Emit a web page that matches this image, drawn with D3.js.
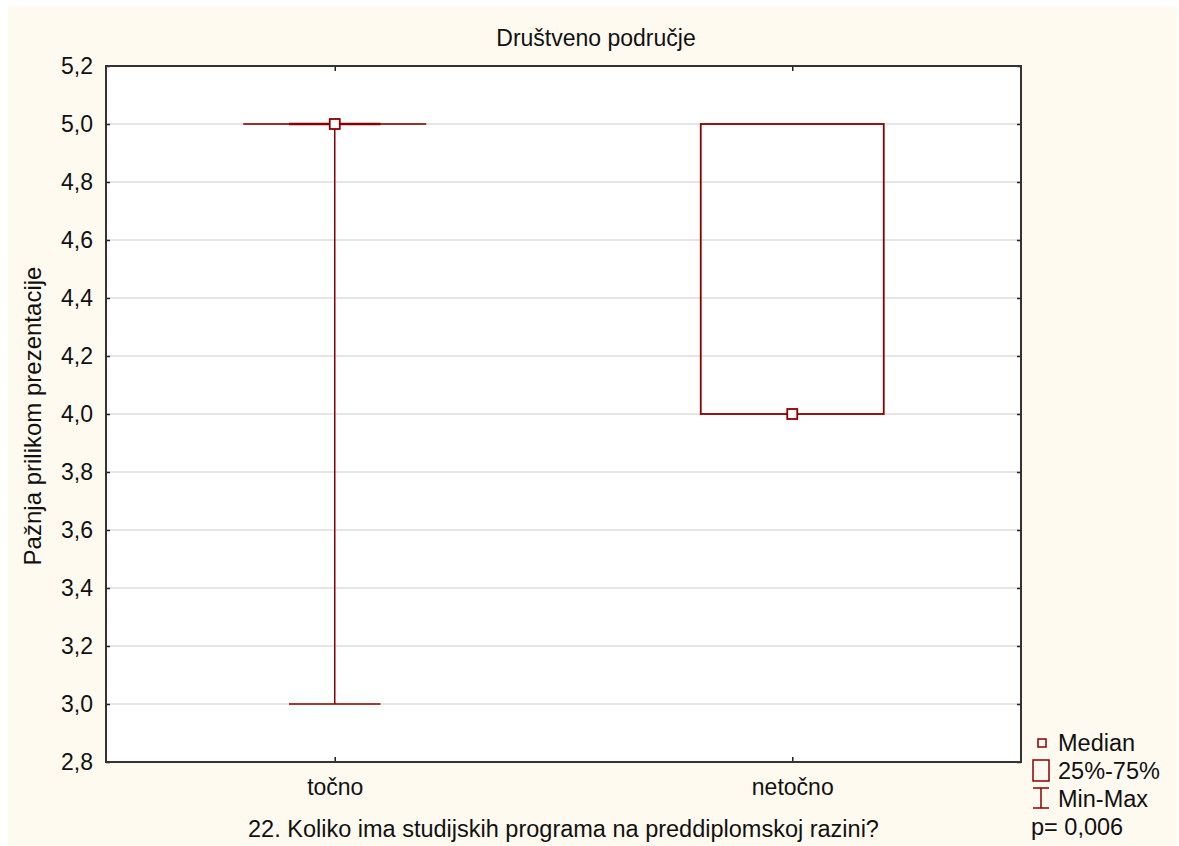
<!DOCTYPE html>
<html><head><meta charset="utf-8">
<script src="https://cdn.jsdelivr.net/npm/d3@7"></script>
<style>body{margin:0;background:#fff}svg{display:block}text{font-family:"Liberation Sans",Arial,sans-serif;fill:#111}</style>
</head><body>
<script>
const categories = ["točno", "netočno"];
const medians = [5, 4];
const q1 = [5, 4];
const q3 = [5, 5];
const mins = [3, 4];
const maxs = [5, 5];
const yTicks = [2.8, 3.0, 3.2, 3.4, 3.6, 3.8, 4.0, 4.2, 4.4, 4.6, 4.8, 5.0, 5.2];
const legendLabels = ["Median", "25%-75%", "Min-Max"];
const pText = "p= 0,006";
const title = "Društveno područje";
const xTitle = "22. Koliko ima studijskih programa na preddiplomskoj razini?";
const yTitle = "Pažnja prilikom prezentacije";

const W = 1179, H = 846;
const col = "#8b0000";
const FF = '"Liberation Sans",Arial,sans-serif';
const svg = d3.select("body").append("svg").attr("width", W).attr("height", H);
svg.append("rect").attr("x", 8).attr("y", 6).attr("width", 1169).attr("height", 840).attr("fill", "#fffaf0");

const L = 106, R = 1021, T = 66, B = 762;
svg.append("rect").attr("x", L).attr("y", T).attr("width", R - L).attr("height", B - T).attr("fill", "#fff");

const y = d3.scaleLinear().domain([2.8, 5.2]).range([B, T]);
const x = d3.scalePoint().domain(categories).range([L, R]).padding(0.5);
const step = x.step();
const boxW = step * 0.4;

// grid
svg.append("g").selectAll("line").data(yTicks.slice(1, -1)).join("line")
  .attr("x1", L).attr("x2", R).attr("y1", d => y(d)).attr("y2", d => y(d))
  .attr("stroke", "#dcdcdc").attr("stroke-width", 1.5);

const fmt = d => d3.format(".1f")(d).replace(".", ",");
const ax = svg.append("g").attr("transform", `translate(${L},0)`)
  .call(d3.axisLeft(y).tickValues(yTicks).tickFormat(fmt).tickSizeInner(-4).tickSizeOuter(0).tickPadding(13));
ax.select(".domain").remove();
ax.attr("font-size", null).attr("font-family", null);
ax.selectAll("text").style("font-size", "23px").style("font-family", FF).attr("fill", "#111");
ax.selectAll("line").attr("stroke", "#222").attr("stroke-width", 1.5);
const axR = svg.append("g").attr("transform", `translate(${R},0)`)
  .call(d3.axisRight(y).tickValues(yTicks).tickFormat("").tickSizeInner(-4).tickSizeOuter(0));
axR.select(".domain").remove();
axR.selectAll("line").attr("stroke", "#222").attr("stroke-width", 1.5);

const axB = svg.append("g").attr("transform", `translate(0,${B})`)
  .call(d3.axisBottom(x).tickSizeInner(-5).tickSizeOuter(0).tickPadding(17));
axB.select(".domain").remove();
axB.attr("font-size", null).attr("font-family", null);
axB.selectAll("text").style("font-size", "23px").style("font-family", FF).attr("fill", "#111");
axB.selectAll("line").attr("stroke", "#222").attr("stroke-width", 1.5);
const axT = svg.append("g").attr("transform", `translate(0,${T})`)
  .call(d3.axisTop(x).tickSizeInner(-5).tickSizeOuter(0).tickFormat(""));
axT.select(".domain").remove();
axT.selectAll("line").attr("stroke", "#222").attr("stroke-width", 1.5);

svg.append("rect").attr("x", L).attr("y", T).attr("width", R - L).attr("height", B - T)
  .attr("fill", "none").attr("stroke", "#333").attr("stroke-width", 2);

const data = categories.map((c, i) => ({c, med: medians[i], q1: q1[i], q3: q3[i], mn: mins[i], mx: maxs[i]}));
const g = svg.append("g");
data.forEach(d => {
  const cx = x(d.c);
  // whiskers
  g.append("line").attr("x1", cx).attr("x2", cx).attr("y1", y(d.mn)).attr("y2", y(d.q1)).attr("stroke", col).attr("stroke-width", 1.5);
  g.append("line").attr("x1", cx).attr("x2", cx).attr("y1", y(d.mx)).attr("y2", y(d.q3)).attr("stroke", col).attr("stroke-width", 1.5);
  // box
  if (d.q3 > d.q1) {
    g.append("rect").attr("x", cx - boxW / 2).attr("y", y(d.q3)).attr("width", boxW).attr("height", y(d.q1) - y(d.q3))
      .attr("fill", "none").attr("stroke", col).attr("stroke-width", 1.8);
  } else {
    g.append("line").attr("x1", cx - boxW / 2).attr("x2", cx + boxW / 2).attr("y1", y(d.q1)).attr("y2", y(d.q1))
      .attr("stroke", "#993333").attr("stroke-width", 2);
  }
  // caps
  [d.mn, d.mx].forEach(v => {
    if (v < d.q1 || v > d.q3 || d.q1 === d.q3)
      g.append("line").attr("x1", cx - boxW / 4).attr("x2", cx + boxW / 4).attr("y1", y(v)).attr("y2", y(v))
        .attr("stroke", col).attr("stroke-width", v === d.q1 && d.q1 === d.q3 ? 2.5 : 1.5);
  });
  // median
  g.append("rect").attr("x", cx - 5).attr("y", y(d.med) - 5).attr("width", 10).attr("height", 10)
    .attr("fill", "#fff").attr("stroke", col).attr("stroke-width", 1.8);
});

svg.append("text").attr("x", 596).attr("y", 46).attr("text-anchor", "middle").style("font-size", "23px").text(title);
svg.append("text").attr("x", (L + R) / 2).attr("y", 837).attr("text-anchor", "middle").style("font-size", "23.5px").text(xTitle);
svg.append("text").attr("transform", `translate(41,${(T + B) / 2 + 2}) rotate(-90)`).attr("text-anchor", "middle").style("font-size", "24px").text(yTitle);

// legend
const lg = svg.append("g");
lg.append("rect").attr("x", 1038).attr("y", 739).attr("width", 8).attr("height", 8).attr("fill", "none").attr("stroke", col).attr("stroke-width", 1.5);
lg.append("rect").attr("x", 1033).attr("y", 760).attr("width", 16).attr("height", 21).attr("fill", "none").attr("stroke", col).attr("stroke-width", 1.5);
lg.append("line").attr("x1", 1041).attr("x2", 1041).attr("y1", 788).attr("y2", 808).attr("stroke", col).attr("stroke-width", 1.5);
lg.append("line").attr("x1", 1033).attr("x2", 1049).attr("y1", 788).attr("y2", 788).attr("stroke", col).attr("stroke-width", 1.5);
lg.append("line").attr("x1", 1033).attr("x2", 1049).attr("y1", 808).attr("y2", 808).attr("stroke", col).attr("stroke-width", 1.5);
const ly = [751, 779, 807];
legendLabels.forEach((t, i) => lg.append("text").attr("x", 1058).attr("y", ly[i]).style("font-size", "23.5px").text(t));
lg.append("text").attr("x", 1031).attr("y", 835).style("font-size", "23.5px").text(pText);
</script>
</body></html>
